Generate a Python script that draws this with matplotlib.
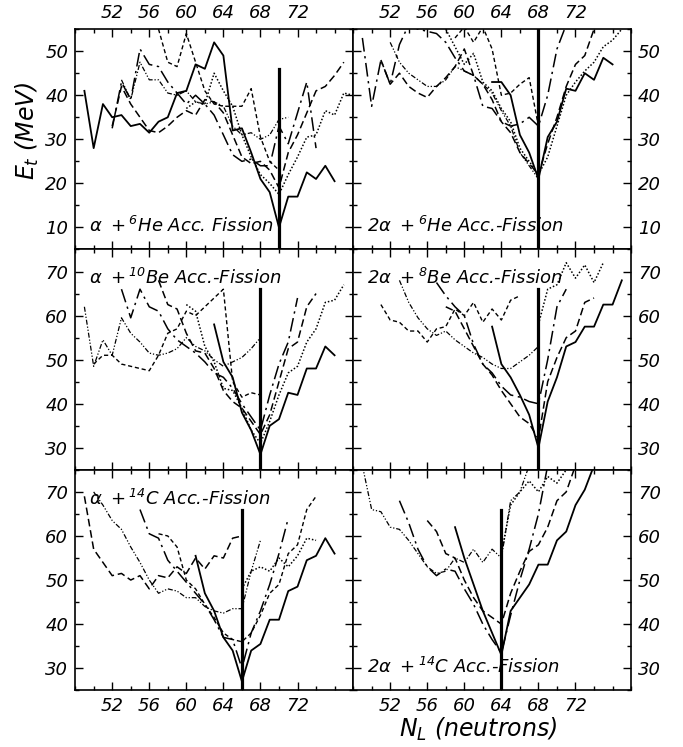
import matplotlib.pyplot as plt
import numpy as np
from matplotlib.ticker import MultipleLocator, FixedLocator

plt.rcParams['font.family'] = ['DejaVu Sans']
plt.rcParams['font.style'] = 'italic'
plt.rcParams['mathtext.fontset'] = 'dejavusans'
plt.rcParams['mathtext.default'] = 'it'

# panel labels, fission valley position (N_L) and top of the marker line
titles = [r'$\alpha\ +{}^{6}$He Acc. Fission', r'2$\alpha\ +{}^{6}$He Acc.-Fission',
          r'$\alpha\ +{}^{10}$Be Acc.-Fission', r'2$\alpha\ +{}^{8}$Be Acc.-Fission',
          r'$\alpha\ +{}^{14}$C Acc.-Fission', r'2$\alpha\ +{}^{14}$C Acc.-Fission']
valley_n = [70, 68, 68, 68, 66, 64]
valley_top = [46, 56, 66, 66, 66, 66]
ylims = [(5, 55), (5, 55), (25, 75), (25, 75), (25, 75), (25, 75)]
xticks_major = [52, 56, 60, 64, 68, 72]

# each curve: (first N_L, E_t values at N_L, N_L+1, ...)
# alpha + 6He
he6a_solid = (49, [41, 28, 38, 35, 35.5, 33, 33.5, 31.5, 34, 35, 40.5, 41, 47, 46, 52, 49,
                   32, 32.5, 27, 21, 18, 10, 17, 17, 22.5, 21, 24, 20.5])
he6a_dash = (52, [33, 42, 38, 35, 32, 31.5, 33, 35, 36.5, 35.5, 39, 38.5, 36, 31, 26, 24.5,
                  25, 23, 19, 27, 31, 36, 41, 42, 44.5, 47.5])
he6a_dash2 = (57, [55, 47.5, 46.5, 54, 47.5, 41, 38, 37.5, 37.5, 37.5, 41.5, 30.5, 25, 23])
he6a_ldd = (52, [32.5, 43, 39, 50.5, 47, 46.5, 43, 40.5, 38, 40, 38, 35.5, 31, 26.5, 25,
                 25.5, 24, 24, 33, 29, 36, 43, 28])
he6a_dot = (60, [37, 38.5, 38, 45, 41, 37.5, 31, 26, 22, 20, 17.5, 22, 26, 30.5, 31, 36.5,
                 35.5, 40.5, 40])
he6a_fine = (53, [43.5, 39, 47.5, 43.5, 43.5, 40.5, 40, 41, 38.5, 38, 38.5, 37.5, 33, 31,
                  31.5, 30, 31, 34.5, 35])

# 2 alpha + 6He
he6b_solid = (63, [43, 43, 40, 31, 27, 21, 30.5, 34, 41.5, 41, 45, 43.5, 48.5, 47])
he6b_dash = (51, [48, 42.5, 45, 42, 40.5, 39.5, 42, 44, 46.5, 50.5, 44.5, 42.5, 39, 34,
                  31.5, 27, 24.5, 22, 29, 35, 42, 47, 49, 55])
he6b_dash2 = (59, [53, 55.5, 52, 55.5, 50.5, 40, 40.5, 42.5, 44, 33])
he6b_ldd = (49, [53, 37.5, 48, 42.5, 51.5, 56, 55, 54.5, 54, 52, 48.5, 45.5, 44.5, 37.5,
                 37, 34, 33, 33.5, 35, 33, 40, 50.5, 56])
he6b_dot = (58, [55, 51, 47, 49.5, 43, 41, 37, 34, 28, 25, 22, 26, 33, 40, 43, 45.5, 47.5,
                 51, 52.5, 55])
he6b_fine = (52, [52, 47.5, 45, 43.5, 42, 42, 43.5, 46.5, 45.5, 44.5, 42.5, 40.5, 36.5,
                  33, 27, 24, 21])

# alpha + 10Be
be10_solid = (63, [58, 49.5, 46, 38, 34, 28.5, 35, 36.5, 42.5, 42, 48, 48, 53, 51])
be10_dash = (57, [68, 62.5, 61.5, 56, 52, 51.5, 48, 43, 40.5, 39, 36, 33, 37.5, 45, 52.5,
                  54, 62, 65])
be10_dash2 = (50, [49, 51, 51, 49, 48.5, 48, 47.5, 51, 56, 57, 61, 60, 62, 64, 66, 45,
                   41.5, 42.5, 42])
be10_ldd = (53, [66, 59.5, 66, 62, 61, 57, 54.5, 53, 51.5, 49.5, 47, 46, 43.5, 40, 37,
                 34, 42, 49, 54, 64])
be10_dot = (60, [62.5, 61, 53, 49.5, 43.5, 43, 39, 34, 31, 36, 42, 47, 48.5, 54, 57, 63,
                 63.5, 67])
be10_fine = (49, [62, 48.5, 54.5, 51, 59.5, 56, 54, 51.5, 51, 51.5, 52.5, 55, 53, 52, 50,
                  48.5, 49.5, 50.5, 52.5, 55])

# 2 alpha + 8Be
be8_solid = (63, [57.5, 49, 46, 42, 37.5, 30, 40.5, 46, 53, 54, 57.5, 57.5, 62.5, 62.5, 68])
be8_dash = (58, [62, 61, 57, 53, 49, 46.5, 43, 40, 37, 35.5, 32, 45, 50.5, 55, 56.5, 63, 64])
be8_dash2 = (51, [62.5, 59, 58.5, 56.5, 56.5, 54, 57, 57.5, 61.5, 60, 63, 58.5, 61.5, 59,
                  63.5, 64.5])
be8_ldd = (57, [67.5, 64.5, 62, 60, 53.5, 49, 47, 44, 42, 41.5, 40.5, 40, 50, 62, 66])
be8_dot = (68, [58, 66, 67, 72, 68.5, 71.5, 67.5, 72])
be8_fine = (53, [68, 63, 59.5, 57, 55.5, 56.5, 54.5, 53, 51.5, 50.5, 49, 48, 48, 49.5,
                 51, 53])

# alpha + 14C
c14a_solid = (61, [55.5, 47, 43, 37, 34, 27, 34, 35.5, 41, 41, 47.5, 48.5, 54.5, 55.5,
                   59.5, 56])
c14a_dash = (49, [69, 57, 54, 51, 51.5, 50, 51, 48, 51, 50.5, 53, 51.5, 55, 52.5, 55.5,
                  55, 59.5, 60])
c14a_dash2 = (57, [60.5, 60, 57.5, 50, 48, 44.5, 41.5, 38, 36.5, 36, 38, 42, 47, 49, 56,
                   58, 66, 69])
c14a_ldd = (55, [66, 60.5, 59.5, 54.5, 52, 49.5, 47, 44.5, 41, 37, 36.5, 30, 38, 43, 49,
                 56, 64])
c14a_dot = (66, [48, 52, 53, 52, 55, 53, 55.5, 59.5, 59])
c14a_fine = (50, [70, 67, 63.5, 61.5, 57.5, 54, 50, 47, 48, 47.5, 46, 46, 44, 43, 42.5,
                  43.5, 43.5, 52, 59])

# 2 alpha + 14C
c14b_solid = (59, [62, 55, 49, 43, 38, 33, 43, 46, 49, 53.5, 53.5, 59, 61, 67, 70.5, 76])
c14b_dash = (56, [63.5, 61, 56, 55, 50, 46, 43, 41.5, 40, 47, 52, 56.5, 58, 62, 68, 70, 76])
c14b_ldd = (53, [68, 63, 57, 53, 51, 52.5, 52, 48, 44.5, 40, 36.5, 33.5, 42, 50, 57, 65,
                 76])
c14b_dot = (64, [56, 67, 70, 72.5, 70, 73.5, 72, 75])
c14b_fine = (49, [76, 66, 65.5, 62, 61.5, 59, 56, 53, 51.5, 52, 55, 54, 57, 54, 57, 55,
                  68, 70, 76])

panels = [
    [he6a_solid, he6a_dash, he6a_dash2, he6a_ldd, he6a_dot, he6a_fine],
    [he6b_solid, he6b_dash, he6b_dash2, he6b_ldd, he6b_dot, he6b_fine],
    [be10_solid, be10_dash, be10_dash2, be10_ldd, be10_dot, be10_fine],
    [be8_solid, be8_dash, be8_dash2, be8_ldd, be8_dot, be8_fine],
    [c14a_solid, c14a_dash, c14a_dash2, c14a_ldd, c14a_dot, c14a_fine],
    [c14b_solid, c14b_dash, None, c14b_ldd, c14b_dot, c14b_fine],
]

styles = [
    dict(ls='-', lw=1.3),
    dict(ls=(0, (5, 2.5)), lw=1.1),
    dict(ls=(0, (3, 2)), lw=1.0),
    dict(ls=(0, (9, 3, 1.5, 3)), lw=1.1),
    dict(ls=(0, (1, 1.3)), lw=1.1),
    dict(ls=(0, (4, 1.5, 1, 1.5, 1, 1.5)), lw=0.9),
]

fig = plt.figure(figsize=(6.83, 7.47), dpi=100)
gs = fig.add_gridspec(3, 2, left=0.110, right=0.924, top=0.961, bottom=0.076,
                      hspace=0, wspace=0)

for i in range(6):
    row, col = divmod(i, 2)
    ax = fig.add_subplot(gs[row, col])
    for curve, st in zip(panels[i], styles):
        if curve is None:
            continue
        n0, vals = curve
        n = np.arange(n0, n0 + len(vals))
        ax.plot(n, vals, color='black', **st)
    ax.plot([valley_n[i], valley_n[i]], [ylims[i][0], valley_top[i]], color='black', lw=2.3)

    ax.set_xlim(48, 78)
    ax.set_ylim(*ylims[i])
    ax.xaxis.set_major_locator(FixedLocator(xticks_major))
    ax.xaxis.set_minor_locator(MultipleLocator(2))
    ax.yaxis.set_major_locator(MultipleLocator(10))
    ax.yaxis.set_minor_locator(MultipleLocator(5))
    ax.tick_params(which='both', direction='in', top=True, bottom=True, left=True,
                   right=True, labelsize=13, width=1)
    ax.tick_params(which='major', length=6)
    ax.tick_params(which='minor', length=3)
    ax.tick_params(labeltop=(row == 0), labelbottom=(row == 2),
                   labelleft=(col == 0), labelright=(col == 1), pad=5)
    for sp in ax.spines.values():
        sp.set_linewidth(1.2)

    ty = 0.06 if i in (0, 1, 5) else 0.87
    ax.text(0.05, ty, titles[i], transform=ax.transAxes, fontsize=13,
            ha='left', va='bottom' if ty < 0.5 else 'center')

fig.text(0.04, 0.825, r'$E_t$ (MeV)', rotation=90, fontsize=17, ha='center', va='center')
fig.text(0.70, 0.024, r'$N_L$ (neutrons)', fontsize=17, ha='center', va='center')

fig.savefig('out.png', dpi=100)
